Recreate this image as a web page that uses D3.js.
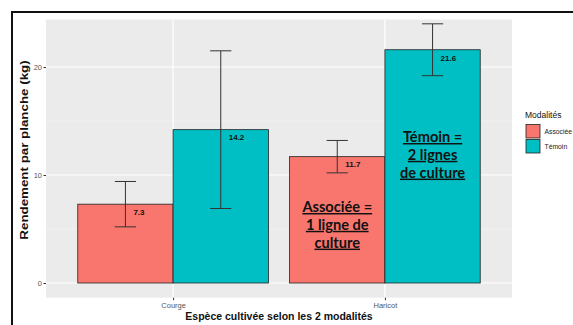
<!DOCTYPE html>
<html>
<head>
<meta charset="utf-8">
<script src="https://cdn.jsdelivr.net/npm/d3@7"></script>
<style>
  html, body { margin: 0; padding: 0; background: #fff; }
  svg { display: block; }
</style>
</head>
<body>
<svg id="chart" width="573" height="325"></svg>
<script>
// Yield per bed, two growing modes per crop
const categories = ["Courge", "Haricot"];
const modalities = ["Associée", "Témoin"];
const meanAssociee = [7.3, 11.7];
const meanTemoin = [14.2, 21.6];
const lowAssociee = [5.2, 10.2];
const highAssociee = [9.4, 13.2];
const lowTemoin = [6.9, 19.2];
const highTemoin = [21.5, 24.0];
const yTicks = [0, 10, 20];
const colors = ["#F8766D", "#00BFC4"];

// Text notes written over the Haricot bars
const noteAssociee = ["Associée =", "1 ligne de", "culture"];
const noteTemoin = ["Témoin =", "2 lignes", "de culture"];

const rows = [];
categories.forEach((c, i) => {
  rows.push({ cat: c, mod: modalities[0], v: meanAssociee[i], lo: lowAssociee[i], hi: highAssociee[i] });
  rows.push({ cat: c, mod: modalities[1], v: meanTemoin[i], lo: lowTemoin[i], hi: highTemoin[i] });
});

const svg = d3.select("#chart");
const panel = { left: 46, right: 512, top: 19.5, bottom: 297.7 };
const sans = "Liberation Sans, Arial, sans-serif";

const x = d3.scalePoint().domain(categories).range([panel.left, panel.right]).padding(0.6);
const step = x.step();
const dodge = d3.scaleBand().domain(modalities).range([-0.45 * step, 0.45 * step]);
const y = d3.scaleLinear().domain([-1.36, 24.4]).range([panel.bottom, panel.top]);
const color = d3.scaleOrdinal().domain(modalities).range(colors);

// Outer frame
svg.append("rect").attr("x", 12).attr("y", 12).attr("width", 600).attr("height", 400)
  .attr("fill", "none").attr("stroke", "#111").attr("stroke-width", 2);

// Panel background
svg.append("rect").attr("x", panel.left).attr("y", panel.top)
  .attr("width", panel.right - panel.left).attr("height", panel.bottom - panel.top)
  .attr("fill", "#EBEBEB");

// Grid lines
const minor = [5, 15];
svg.append("g").selectAll("line").data(minor).join("line")
  .attr("x1", panel.left).attr("x2", panel.right)
  .attr("y1", d => y(d)).attr("y2", d => y(d))
  .attr("stroke", "#F7F7F7").attr("stroke-width", 0.6);
svg.append("g").selectAll("line").data(yTicks).join("line")
  .attr("x1", panel.left).attr("x2", panel.right)
  .attr("y1", d => y(d)).attr("y2", d => y(d))
  .attr("stroke", "#fff").attr("stroke-width", 1.2);
svg.append("g").selectAll("line").data(categories).join("line")
  .attr("x1", d => x(d)).attr("x2", d => x(d))
  .attr("y1", panel.top).attr("y2", panel.bottom)
  .attr("stroke", "#fff").attr("stroke-width", 1.2);

// Bars
svg.append("g").selectAll("rect").data(rows).join("rect")
  .attr("x", d => x(d.cat) + dodge(d.mod))
  .attr("width", dodge.bandwidth())
  .attr("y", d => y(d.v))
  .attr("height", d => y(0) - y(d.v))
  .attr("fill", d => color(d.mod))
  .attr("stroke", "#222").attr("stroke-width", 0.8);

// Error bars
const cap = 0.1 * step;
const eb = svg.append("g").attr("stroke", "#333").attr("stroke-width", 1);
rows.forEach(d => {
  const cx = x(d.cat) + dodge(d.mod) + dodge.bandwidth() / 2;
  eb.append("line").attr("x1", cx).attr("x2", cx).attr("y1", y(d.lo)).attr("y2", y(d.hi));
  eb.append("line").attr("x1", cx - cap / 2).attr("x2", cx + cap / 2).attr("y1", y(d.lo)).attr("y2", y(d.lo));
  eb.append("line").attr("x1", cx - cap / 2).attr("x2", cx + cap / 2).attr("y1", y(d.hi)).attr("y2", y(d.hi));
});

// Value labels
svg.append("g").selectAll("text").data(rows).join("text")
  .attr("x", d => x(d.cat) + dodge(d.mod) + dodge.bandwidth() / 2 + 8)
  .attr("y", d => y(d.v) + 8)
  .attr("dy", "0.35em")
  .attr("font-family", sans)
  .attr("font-weight", "bold").attr("font-size", 8).attr("fill", "#111")
  .text(d => d.v.toFixed(1));

// Notes over the Haricot bars
function note(lines, mod, baseY) {
  const cx = x("Haricot") + dodge(mod) + dodge.bandwidth() / 2;
  svg.append("g").selectAll("text").data(lines).join("text")
    .attr("x", cx).attr("y", (d, i) => baseY + i * 17.8)
    .attr("text-anchor", "middle")
    .attr("font-family", "Lato, 'Open Sans', sans-serif")
    .attr("font-weight", "bold").attr("font-size", 14.6).attr("fill", "#111")
    .style("text-decoration", "underline")
    .text(d => d);
}
note(noteTemoin, "Témoin", 142);
note(noteAssociee, "Associée", 212);

// Axes
const yAxis = svg.append("g").attr("transform", `translate(${panel.left},0)`)
  .call(d3.axisLeft(y).tickValues(yTicks).tickSize(2.5).tickPadding(1.5));
const xAxis = svg.append("g").attr("transform", `translate(0,${panel.bottom})`)
  .call(d3.axisBottom(x).tickSize(2.5).tickPadding(2));
[yAxis, xAxis].forEach(a => {
  a.select(".domain").remove();
  a.selectAll(".tick line").attr("stroke", "#333");
  a.selectAll(".tick text").attr("fill", "#555").attr("font-size", 7.5)
    .attr("font-family", sans);
});

// Axis titles
svg.append("text").attr("x", (panel.left + panel.right) / 2).attr("y", 320)
  .attr("text-anchor", "middle").attr("font-family", sans)
  .attr("font-weight", "bold").attr("font-size", 10.5).attr("fill", "#111")
  .text("Espèce cultivée selon les 2 modalités");
svg.append("text").attr("transform", "translate(28,150) rotate(-90) scale(1.27,1)")
  .attr("text-anchor", "middle").attr("font-family", sans)
  .attr("font-weight", "bold").attr("font-size", 10.5).attr("fill", "#111")
  .text("Rendement par planche (kg)");

// Legend
const lg = svg.append("g").attr("transform", "translate(525,0)");
lg.append("text").attr("x", 0).attr("y", 118)
  .attr("font-family", sans).attr("font-size", 8.5).attr("fill", "#111")
  .text("Modalités");
const items = lg.selectAll("g.item").data(modalities).join("g")
  .attr("transform", (d, i) => `translate(1,${124.5 + i * 15})`);
items.append("rect").attr("width", 14).attr("height", 13.5)
  .attr("fill", d => color(d)).attr("stroke", "#222").attr("stroke-width", 0.8);
items.append("text").attr("x", 18.5).attr("y", 7).attr("dy", "0.35em")
  .attr("font-family", sans).attr("font-size", 6.8).attr("fill", "#222")
  .text(d => d);
</script>
</body>
</html>
